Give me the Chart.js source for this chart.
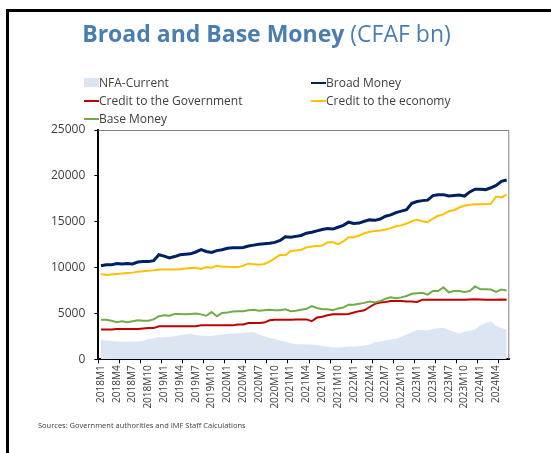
<!DOCTYPE html>
<html>
<head>
<meta charset="utf-8">
<script src="https://cdn.jsdelivr.net/npm/chart.js@4.4.1/dist/chart.umd.min.js"></script>
<style>
  body { margin: 0; width: 551px; height: 453px; overflow: hidden; background: #fff; font-family: "Open Sans", sans-serif; }
  #frame { position: absolute; left: 6px; top: 9px; width: 620px; height: 500px; border-left: 3px solid #000; border-top: 3px solid #000; }
  #chart { position: absolute; left: 0; top: 0; }
  #title { position: absolute; left: 0; width: 533px; top: 22px; text-align: center; font-size: 23px; line-height: 1; color: #4a7eb0; white-space: nowrap; }
  #title b { font-weight: 700; }
  .leg { position: absolute; font-size: 12px; line-height: 18px; color: #404040; white-space: nowrap; }
  .leg span.sw { display: inline-block; width: 15px; vertical-align: middle; margin-top: -2px; }
  #sources { position: absolute; left: 38px; top: 420px; font-size: 7.5px; color: #404040; white-space: nowrap; }
</style>
</head>
<body>
<div id="frame"></div>
<canvas id="chart" width="551" height="453"></canvas>
<div id="title"><b>Broad and Base Money</b> (CFAF bn)</div>
<div id="legend"></div>
<div id="sources">Sources: Government authorities and IMF Staff Calculations</div>
<script>
// monthly categories 2018M1 .. 2024M6
var months = [
  "2018M1","2018M2","2018M3","2018M4","2018M5","2018M6","2018M7","2018M8","2018M9","2018M10","2018M11","2018M12",
  "2019M1","2019M2","2019M3","2019M4","2019M5","2019M6","2019M7","2019M8","2019M9","2019M10","2019M11","2019M12",
  "2020M1","2020M2","2020M3","2020M4","2020M5","2020M6","2020M7","2020M8","2020M9","2020M10","2020M11","2020M12",
  "2021M1","2021M2","2021M3","2021M4","2021M5","2021M6","2021M7","2021M8","2021M9","2021M10","2021M11","2021M12",
  "2022M1","2022M2","2022M3","2022M4","2022M5","2022M6","2022M7","2022M8","2022M9","2022M10","2022M11","2022M12",
  "2023M1","2023M2","2023M3","2023M4","2023M5","2023M6","2023M7","2023M8","2023M9","2023M10","2023M11","2023M12",
  "2024M1","2024M2","2024M3","2024M4","2024M5","2024M6"
];

var nfaCurrent = [
  2100, 2050, 2000, 1950, 1900, 1900, 1950, 1950, 2000, 2200, 2300, 2400, 2400, 2450, 2500, 2650, 2700, 2800, 2650, 2600,
  2550, 2550, 2650, 2700, 2750, 2800, 2850, 2900, 2950, 2950, 2700, 2500, 2350, 2200, 2050, 1900, 1750, 1650, 1650, 1650,
  1600, 1550, 1450, 1400, 1300, 1300, 1350, 1400, 1400, 1450, 1500, 1600, 1850, 1950, 2050, 2150, 2250, 2450, 2700, 2950,
  3200, 3200, 3150, 3300, 3400, 3450, 3200, 3000, 2850, 3000, 3100, 3250, 3700, 3950, 4150, 3650, 3400, 3250
];
var broadMoney = [
  10200, 10300, 10300, 10450, 10400, 10450, 10400, 10600, 10650, 10650, 10750, 11400, 11250, 11050, 11200, 11400, 11450, 11500, 11700, 11950,
  11750, 11650, 11850, 11950, 12100, 12150, 12150, 12200, 12350, 12450, 12550, 12600, 12650, 12750, 12950, 13350, 13300, 13400, 13500, 13750,
  13850, 14000, 14150, 14250, 14200, 14400, 14600, 14950, 14800, 14850, 15050, 15200, 15150, 15300, 15600, 15750, 16000, 16150, 16300, 17000,
  17200, 17300, 17350, 17850, 17950, 17950, 17800, 17850, 17900, 17800, 18250, 18550, 18550, 18500, 18700, 18950, 19400, 19550
];
var creditGov = [
  3250, 3250, 3250, 3300, 3300, 3300, 3300, 3300, 3350, 3400, 3400, 3600, 3600, 3600, 3600, 3600, 3600, 3600, 3600, 3700,
  3700, 3700, 3700, 3700, 3700, 3700, 3800, 3800, 3950, 3950, 3950, 4000, 4250, 4300, 4300, 4300, 4300, 4350, 4350, 4350,
  4150, 4550, 4650, 4800, 4900, 4900, 4900, 4950, 5100, 5250, 5350, 5700, 6050, 6200, 6250, 6350, 6350, 6350, 6300, 6300,
  6250, 6500, 6480, 6480, 6480, 6480, 6480, 6480, 6480, 6480, 6530, 6550, 6530, 6500, 6480, 6500, 6520, 6480
];
var creditEconomy = [
  9300, 9200, 9250, 9300, 9350, 9400, 9450, 9550, 9600, 9650, 9700, 9800, 9800, 9780, 9800, 9820, 9900, 9950, 9980, 9850,
  10050, 9980, 10200, 10100, 10100, 10050, 10050, 10200, 10450, 10350, 10300, 10400, 10650, 11000, 11400, 11350, 11800, 11850, 11950, 12200,
  12300, 12350, 12400, 12750, 12750, 12550, 12850, 13300, 13300, 13500, 13750, 13900, 14000, 14050, 14150, 14300, 14500, 14600, 14800, 15050,
  15200, 15050, 14950, 15350, 15650, 15800, 16150, 16250, 16550, 16750, 16850, 16900, 16900, 16900, 16950, 17750, 17650, 17950
];
var baseMoney = [
  4300, 4300, 4200, 4050, 4150, 4050, 4150, 4250, 4200, 4200, 4350, 4700, 4800, 4750, 4950, 4950, 4900, 4950, 5000, 4900,
  4750, 5150, 4700, 5050, 5100, 5200, 5250, 5250, 5350, 5400, 5300, 5350, 5400, 5350, 5350, 5450, 5250, 5300, 5400, 5500,
  5800, 5600, 5450, 5450, 5350, 5550, 5650, 5950, 5950, 6050, 6150, 6300, 6200, 6350, 6600, 6750, 6650, 6750, 6900, 7150,
  7200, 7250, 7050, 7450, 7450, 7850, 7300, 7450, 7450, 7350, 7450, 7950, 7650, 7650, 7600, 7350, 7600, 7500
];

var yTicks = [0, 5000, 10000, 15000, 20000, 25000];

Chart.defaults.font.family = "'Open Sans', sans-serif";
Chart.defaults.color = "#404040";

// thin grey frame on top and right of the plot
var frameLines = {
  id: "frameLines",
  afterDraw: function(chart) {
    var a = chart.chartArea, ctx = chart.ctx;
    ctx.save();
    ctx.strokeStyle = "#7f7f7f";
    ctx.lineWidth = 1;
    ctx.beginPath();
    ctx.moveTo(a.left, a.top + 0.5);
    ctx.lineTo(a.right - 0.5, a.top + 0.5);
    ctx.lineTo(a.right - 0.5, a.bottom);
    ctx.stroke();
    ctx.restore();
  }
};

var datasets = [
  { label: "NFA-Current", data: nfaCurrent, fill: "origin", backgroundColor: "#dce6f2", borderWidth: 0, order: 10, legendType: "box" },
  { label: "Broad Money", data: broadMoney, borderColor: "#002060", borderWidth: 3, order: 1 },
  { label: "Credit to the Government", data: creditGov, borderColor: "#c00000", borderWidth: 2, order: 4 },
  { label: "Credit to the economy", data: creditEconomy, borderColor: "#ffc000", borderWidth: 2, order: 2 },
  { label: "Base Money", data: baseMoney, borderColor: "#70ad47", borderWidth: 2, order: 3 }
];

var chart = new Chart(document.getElementById("chart"), {
  type: "line",
  data: { labels: months, datasets: datasets },
  options: {
    responsive: false,
    animation: false,
    devicePixelRatio: 1,
    elements: { point: { radius: 0 }, line: { tension: 0 } },
    layout: { padding: { left: 0, right: 41.7, top: 130, bottom: 33.7 } },
    plugins: { legend: { display: false }, tooltip: { enabled: false } },
    scales: {
      x: {
        offset: true,
        grid: {
          offset: true, drawOnChartArea: false, tickLength: 4,
          tickColor: function(c) { return c.index % 4 === 0 ? "#000" : "rgba(0,0,0,0)"; }
        },
        border: { color: "#000", width: 2 },
        ticks: {
          autoSkip: false, minRotation: 90, maxRotation: 90, padding: 2,
          font: { size: 10 },
          callback: function(v, i) { return i % 3 === 0 ? months[i] : ""; }
        },
        afterFit: function(s) { s.height = 60; }
      },
      y: {
        min: 0, max: 25000,
        afterBuildTicks: function(s) { s.ticks = yTicks.map(function(v) { return { value: v }; }); },
        grid: { drawOnChartArea: false, tickLength: 4, tickColor: "#000" },
        border: { color: "#000", width: 2 },
        ticks: { padding: 9, font: { size: 12 }, callback: function(v) { return String(v); } },
        afterFit: function(s) { s.width = 98.3; }
      }
    }
  },
  plugins: [frameLines]
});

// legend in two columns, built from the datasets
var legendPos = [[84, 74], [311, 74], [84, 92], [311, 92], [84, 110]];
var legendDiv = document.getElementById("legend");
datasets.forEach(function(ds, i) {
  var item = document.createElement("div");
  item.className = "leg";
  item.style.left = legendPos[i][0] + "px";
  item.style.top = legendPos[i][1] + "px";
  var sw = document.createElement("span");
  sw.className = "sw";
  if (ds.legendType === "box") {
    sw.style.height = "9px";
    sw.style.background = ds.backgroundColor;
  } else {
    sw.style.height = "2px";
    sw.style.background = ds.borderColor;
  }
  item.appendChild(sw);
  item.appendChild(document.createTextNode(ds.label));
  legendDiv.appendChild(item);
});
</script>
</body>
</html>
